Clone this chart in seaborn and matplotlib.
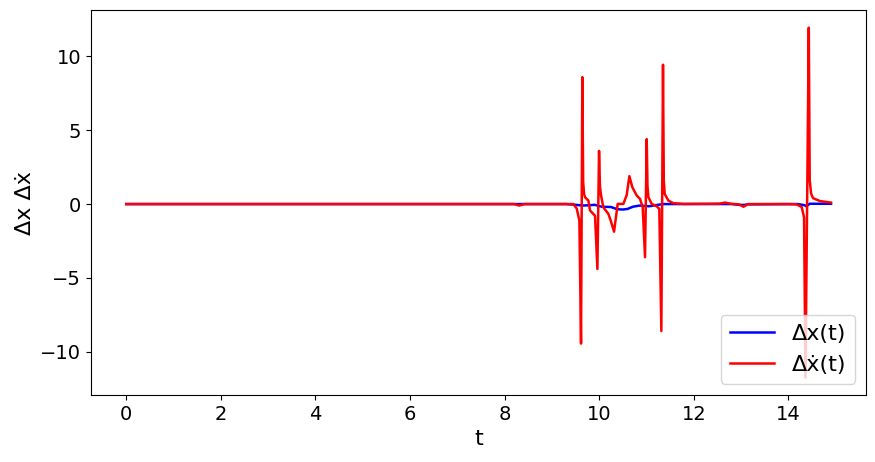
import numpy as np
import pandas as pd
import matplotlib
matplotlib.use("Agg")
import matplotlib.pyplot as plt
import seaborn as sns

# Δx(t)
t_dx = [0.0, 9.30, 9.50, 9.65, 9.80, 9.90, 10.05, 10.25, 10.38, 10.50, 10.60,
        10.71, 10.86, 11.05, 11.20, 11.35, 12.80, 12.95, 13.05, 13.15, 14.20,
        14.34, 14.38, 14.45, 14.90]
dx = [0.0, 0.0, -0.05, -0.10, -0.08, -0.05, -0.18, -0.20, -0.35, -0.37, -0.33,
      -0.18, -0.10, -0.15, -0.07, 0.0, 0.0, -0.05, -0.06, -0.02, 0.0,
      -0.08, -0.15, 0.02, 0.02]

# Δẋ(t)
t_ddx = [0.0, 8.20, 8.31, 8.42, 9.30, 9.453, 9.524, 9.580, 9.615, 9.643, 9.660,
         9.679, 9.700, 9.770, 9.806, 9.876, 9.911, 9.961, 9.996, 10.015, 10.038,
         10.087, 10.193, 10.243, 10.313, 10.390, 10.510, 10.580, 10.637, 10.700,
         10.792, 10.862, 10.919, 10.968, 11.004, 11.020, 11.040, 11.110, 11.215,
         11.270, 11.313, 11.348, 11.365, 11.384, 11.460, 11.566, 11.777, 12.30,
         12.55, 12.66, 12.78, 12.95, 13.05, 13.15, 14.00, 14.17, 14.28, 14.33,
         14.36, 14.43, 14.45, 14.48, 14.52, 14.67, 14.90]
ddx = [0.0, 0.0, -0.10, 0.0, 0.0, 0.0, -0.30, -1.12, -9.45, 8.60, 1.50,
       0.69, 0.46, 0.24, -0.44, -0.67, -0.80, -4.40, 3.60, 1.20, 0.60,
       -0.22, -0.67, -1.12, -1.87, 0.01, 0.01, 0.60, 1.89, 1.14,
       0.58, 0.35, -0.22, -3.60, 4.40, 1.20, 0.46, 0.01, -0.15,
       -0.33, -8.60, 9.44, 1.60, 0.69, 0.24, 0.06, 0.01, 0.02,
       0.03, 0.10, 0.02, -0.02, -0.18, 0.0, 0.0, -0.02, -0.20, -0.90,
       -11.75, 11.95, 1.60, 0.70, 0.40, 0.20, 0.10]

df_dx = pd.DataFrame({"t": t_dx, "v": dx})
df_ddx = pd.DataFrame({"t": t_ddx, "v": ddx})

fig, ax = plt.subplots(figsize=(8.75, 4.62), dpi=100)
fig.subplots_adjust(left=0.104, right=0.99, top=0.978, bottom=0.145)

sns.lineplot(data=df_dx, x="t", y="v", color="blue", estimator=None, linewidth=1.8,
             label="\u0394x(t)", ax=ax)
sns.lineplot(data=df_ddx, x="t", y="v", color="red", estimator=None, linewidth=1.8,
             label="\u0394\u1e8b(t)", ax=ax)

ax.set_xlabel("t", fontsize=16)
ax.set_ylabel("\u0394x \u0394\u1e8b", fontsize=16)
ax.tick_params(labelsize=14)
ax.set_xticks([0, 2, 4, 6, 8, 10, 12, 14])
ax.set_yticks([-10, -5, 0, 5, 10])
ax.legend(loc="lower right", fontsize=16)

fig.savefig("out.png", dpi=100)
